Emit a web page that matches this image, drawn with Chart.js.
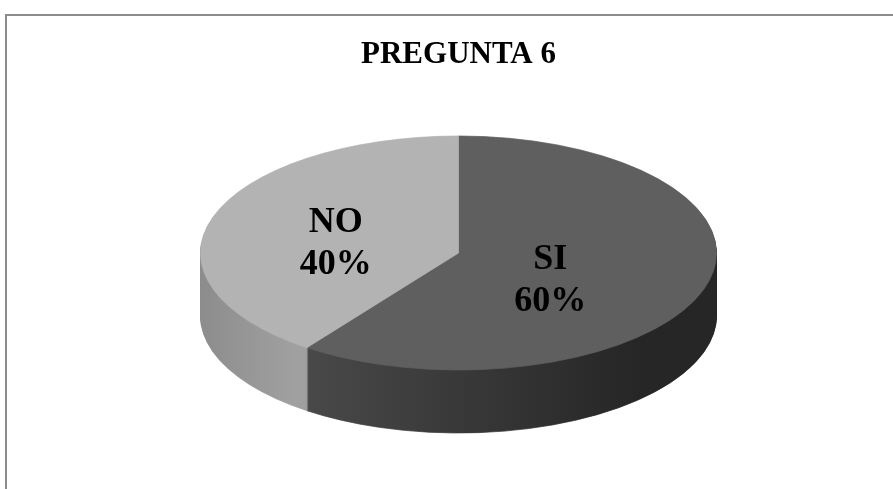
<!DOCTYPE html>
<html>
<head>
<meta charset="utf-8">
<script src="https://cdn.jsdelivr.net/npm/chart.js@4/dist/chart.umd.min.js"></script>
<style>
body{margin:0;background:#fff;}
#wrap{position:relative;width:893px;height:489px;overflow:hidden;}
#frame{position:absolute;left:5px;top:14px;width:1000px;height:1000px;border:2px solid #8c8c8c;}
canvas{position:absolute;left:0;top:0;}
</style>
</head>
<body>
<div id="wrap"><div id="frame"></div><canvas id="pie" width="893" height="489"></canvas></div>
<script>
var categorias = ['SI', 'NO'];
var porcentajes = [60, 40];
var titulo = 'PREGUNTA 6';

// estilo
var coloresTapa = ['#5f5f5f', '#b3b3b3'];
var coloresLado = [['#4c4c4c', '#4a4a4a', '#262626'], ['#8c8c8c', '#a0a0a0', '#a0a0a0']];
var ajusteEtiqueta = [[-31, 9], [0, 8]];
var centroY = 253, radioX = 258, radioY = 117, grosor = 63;
var k = radioY / radioX;

function aplanar(ctx, arc, dy){
    ctx.translate(arc.x, centroY + dy);
    ctx.scale(1, k);
    ctx.translate(-arc.x, -arc.y);
}

var pie3d = {
    id:'pie3d',
    beforeDatasetsDraw:function(chart){
        var ctx = chart.ctx;
        var arcos = chart.getDatasetMeta(0).data;
        var grads = coloresLado.map(function(c){
            var g = ctx.createLinearGradient(200, 0, 717, 0);
            g.addColorStop(0, c[0]);
            g.addColorStop(0.18, c[1]);
            g.addColorStop(0.85, c[2]);
            g.addColorStop(1, c[2]);
            return g;
        });
        for (var d = grosor; d > 0; d--) {
            arcos.forEach(function(arc, i){
                var o = arc.options;
                arc.options = Object.assign({}, o, {backgroundColor:grads[i], borderColor:grads[i]});
                ctx.save();
                aplanar(ctx, arc, d);
                arc.draw(ctx);
                ctx.restore();
                arc.options = o;
            });
        }
        ctx.save();
        aplanar(ctx, arcos[0], 0);
    },
    afterDatasetsDraw:function(chart){
        var ctx = chart.ctx;
        ctx.restore();
        var arcos = chart.getDatasetMeta(0).data;
        ctx.save();
        ctx.fillStyle = '#000';
        ctx.font = 'bold 36px "Liberation Serif", "Times New Roman", serif';
        ctx.textAlign = 'center';
        ctx.textBaseline = 'middle';
        arcos.forEach(function(arc, i){
            var p = arc.tooltipPosition();
            var x = p.x + ajusteEtiqueta[i][0];
            var y = centroY + (p.y - arc.y) * k + ajusteEtiqueta[i][1];
            ctx.fillText(categorias[i], x, y - 20);
            ctx.fillText(porcentajes[i] + '%', x, y + 22);
        });
        ctx.restore();
    }
};

var grafico = new Chart(document.getElementById('pie'), {
    type:'pie',
    data:{
        labels:categorias,
        datasets:[{
            data:porcentajes,
            backgroundColor:coloresTapa,
            borderColor:coloresTapa,
            borderWidth:1,
            radius:radioX,
            clip:false
        }]
    },
    options:{
        responsive:false,
        animation:false,
        events:[],
        layout:{padding:{left:200, right:176}},
        plugins:{
            legend:{display:false},
            tooltip:{enabled:false},
            title:{
                display:true,
                text:titulo,
                color:'#000',
                font:{family:'"Liberation Serif", "Times New Roman", serif', size:31, weight:'bold'},
                padding:{top:36, bottom:10}
            }
        }
    },
    plugins:[pie3d]
});
</script>
</body>
</html>
